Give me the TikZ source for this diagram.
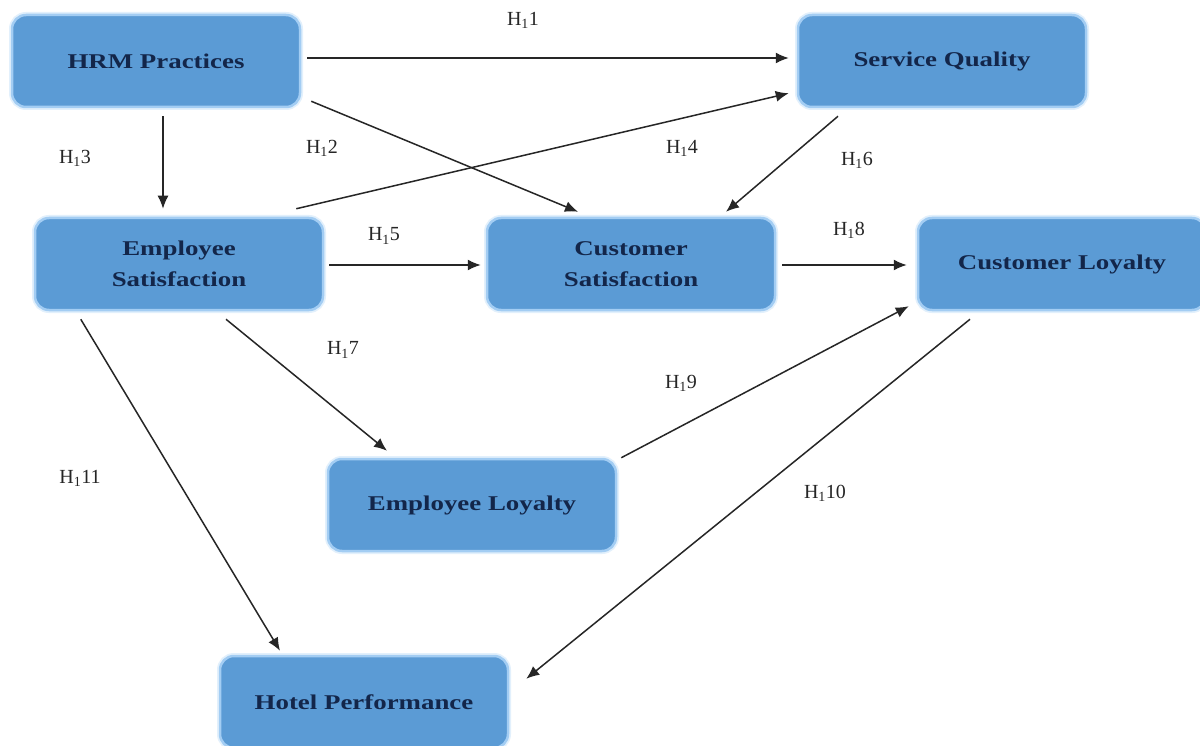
\documentclass[tikz,border=0pt]{standalone}
\usepackage{fontspec}
\setmainfont{Liberation Serif}
\newfontfamily\boxfont[FakeStretch=1.28]{Liberation Serif}
\usetikzlibrary{arrows.meta,calc}
\definecolor{boxfill}{HTML}{5B9BD5}
\definecolor{boxedge}{HTML}{A3CDF3}
\definecolor{boxglow}{HTML}{E2F0FC}
\definecolor{boxtext}{HTML}{13264A}
\definecolor{linecol}{HTML}{262626}
\tikzset{
  varbox/.style={rectangle, rounded corners=14pt, fill=boxfill,
    draw=boxedge, line width=2.5pt,
    preaction={draw=boxglow, line width=6pt},
    minimum width=288pt, minimum height=92pt, align=center,
    text=boxtext, font=\boxfont\bfseries\fontsize{21}{31}\selectfont},
  hyp/.style={font=\fontsize{20}{24}\selectfont, text=black!85, inner sep=0pt},
  link/.style={draw=linecol, line width=1.5pt, -{Latex[length=13pt,width=11pt]}}
}
\begin{document}
\begin{tikzpicture}[x=1pt,y=-1pt]
\useasboundingbox (0,0) rectangle (1200,746);
\fill[white] (0,0) rectangle (1200,746);
\node[varbox] (hrm) at (156,61) {HRM Practices};
\node[varbox] (sq) at (942,61) {Service Quality};
\node[varbox] (es) at (179,264) {Employee\\Satisfaction};
\node[varbox] (cs) at (631,264) {Customer\\Satisfaction};
\node[varbox] (cl) at (1062,264) {Customer Loyalty};
\node[varbox] (el) at (472,505) {Employee Loyalty};
\node[varbox] (hp) at (364,702) {Hotel Performance};

\draw[link] ($(hrm.east)+(6,-3)$) -- ($(sq.west)+(-8,-3)$);
\draw[link] ($(hrm.south east)+(10,-7)$) -- ($(cs.north)+(-53,-5)$);
\draw[link] ($(hrm.south)+(7,8)$) -- ($(es.north)+(-16,-8)$);
\draw[link] ($(es.north east)+(-28,-8)$) -- ($(sq.south west)+(-8,-15)$);
\draw[link] ($(es.east)+(5,1)$) -- ($(cs.west)+(-5,1)$);
\draw[link] ($(sq.south)+(-104,8)$) -- ($(cs.north)+(95,-5)$);
\draw[link] ($(es.south)+(47,8)$) -- ($(el.north)+(-85,-7)$);
\draw[link] ($(cs.east)+(6,1)$) -- ($(cl.west)+(-10,1)$);
\draw[link] ($(el.north east)+(4,0)$) -- ($(cl.south west)+(-8,-5)$);
\draw[link] ($(cl.south)+(-92,8)$) -- ($(hp.north east)+(17,24)$);
\draw[link] ($(es.south west)+(47,8)$) -- ($(hp.north)+(-84,-4)$);

\node[hyp] (l1) at (523,20) {H\textsubscript{1}1};
\node[hyp] (l2) at (322,148) {H\textsubscript{1}2};
\node[hyp] (l3) at (75,158) {H\textsubscript{1}3};
\node[hyp] (l4) at (682,148) {H\textsubscript{1}4};
\node[hyp] (l5) at (384,236) {H\textsubscript{1}5};
\node[hyp] (l6) at (857,160) {H\textsubscript{1}6};
\node[hyp] (l7) at (343,350) {H\textsubscript{1}7};
\node[hyp] (l8) at (849,230) {H\textsubscript{1}8};
\node[hyp] (l9) at (681,383) {H\textsubscript{1}9};
\node[hyp] (l10) at (825,493) {H\textsubscript{1}10};
\node[hyp] (l11) at (80,478) {H\textsubscript{1}11};
\end{tikzpicture}
\end{document}
